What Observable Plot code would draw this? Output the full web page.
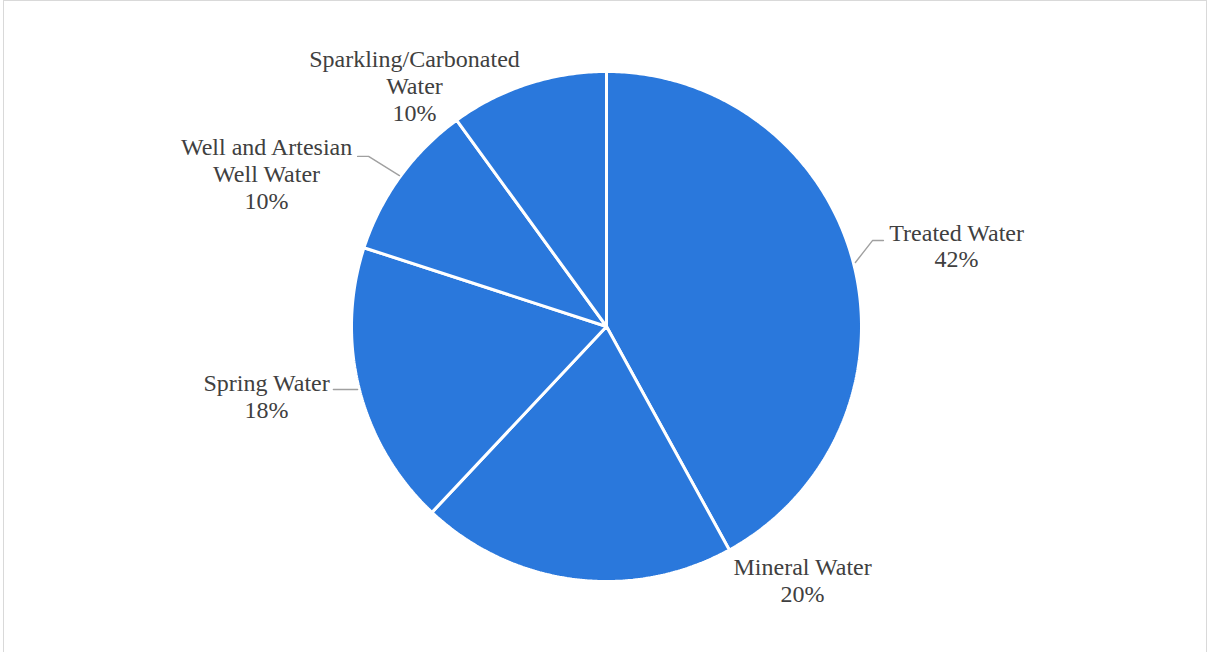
<!DOCTYPE html>
<html>
<head>
<meta charset="utf-8">
<script src="https://cdn.jsdelivr.net/npm/d3@7"></script>
<script src="https://cdn.jsdelivr.net/npm/@observablehq/plot@0.6"></script>
<style>
  html, body { margin: 0; padding: 0; background: #fff; }
  #wrap { position: relative; width: 1212px; height: 652px; overflow: hidden; }
  #frame { position: absolute; left: 3px; top: 0; width: 1204px; height: 660px; border: 1px solid #d9d9d9; box-sizing: border-box; pointer-events: none; }
  #chart { position: absolute; left: 0; top: 0; }
</style>
</head>
<body>
<div id="wrap"><div id="chart"></div><div id="frame"></div></div>
<script>
// Data
const categories = ["Treated Water", "Mineral Water", "Spring Water", "Well and Artesian Well Water", "Sparkling/Carbonated Water"];
const shares = [42, 20, 18, 10, 10];
const labelLines = [
  ["Treated Water"],
  ["Mineral Water"],
  ["Spring Water"],
  ["Well and Artesian", "Well Water"],
  ["Sparkling/Carbonated", "Water"]
];

// Label layout (in pie-radius units, center = 0,0)
const labelX = [1.373, 0.769, -1.333, -1.333, -0.753];
const labelY = [0.314, -0.996, -0.276, 0.596, 0.943];
const leaders = [
  {slice: 0, pts: [[0.976, 0.251], [1.043, 0.337], [1.086, 0.337]]},
  {slice: 2, pts: [[-1.071, -0.247], [-0.976, -0.247]]},
  {slice: 3, pts: [[-0.976, 0.667], [-0.933, 0.667], [-0.812, 0.592]]}
];

const total = d3.sum(shares);
const arcs = d3.pie().sort(null).startAngle(0).endAngle(2 * Math.PI)(shares);

// Build slice polygons from the pie angles
const slicePts = [];
arcs.forEach((a, i) => {
  slicePts.push({slice: i, x: 0, y: 0});
  const n = Math.max(8, Math.ceil((a.endAngle - a.startAngle) / 0.01));
  for (let k = 0; k <= n; k++) {
    const t = a.startAngle + (a.endAngle - a.startAngle) * k / n;
    slicePts.push({slice: i, x: Math.sin(t), y: Math.cos(t)});
  }
  slicePts.push({slice: i, x: 0, y: 0});
});

const labels = categories.map((c, i) => ({
  text: labelLines[i].join("\n") + "\n" + Math.round(shares[i] / total * 100) + "%",
  x: labelX[i],
  y: labelY[i]
}));

const leaderPts = leaders.flatMap(l => l.pts.map(p => ({slice: l.slice, x: p[0], y: p[1]})));

const chart = Plot.plot({
  width: 1212,
  height: 652,
  marginLeft: 351,
  marginRight: 351,
  marginTop: 71,
  marginBottom: 71,
  x: {domain: [-1, 1], axis: null},
  y: {domain: [-1, 1], axis: null},
  style: {fontFamily: "'Liberation Serif', 'Times New Roman', serif", background: "transparent"},
  marks: [
    Plot.line(slicePts, {x: "x", y: "y", z: "slice", fill: "#2a78dc", stroke: "white", strokeWidth: 3, strokeLinejoin: "miter", curve: "linear"}),
    Plot.line(leaderPts, {x: "x", y: "y", z: "slice", stroke: "#a0a0a0", strokeWidth: 1.4}),
    Plot.text(labels, {x: "x", y: "y", text: "text", fontSize: 24, lineHeight: 1.12, fill: "#404040", textAnchor: "middle", dy: -1})
  ]
});
document.getElementById("chart").appendChild(chart);
</script>
</body>
</html>
